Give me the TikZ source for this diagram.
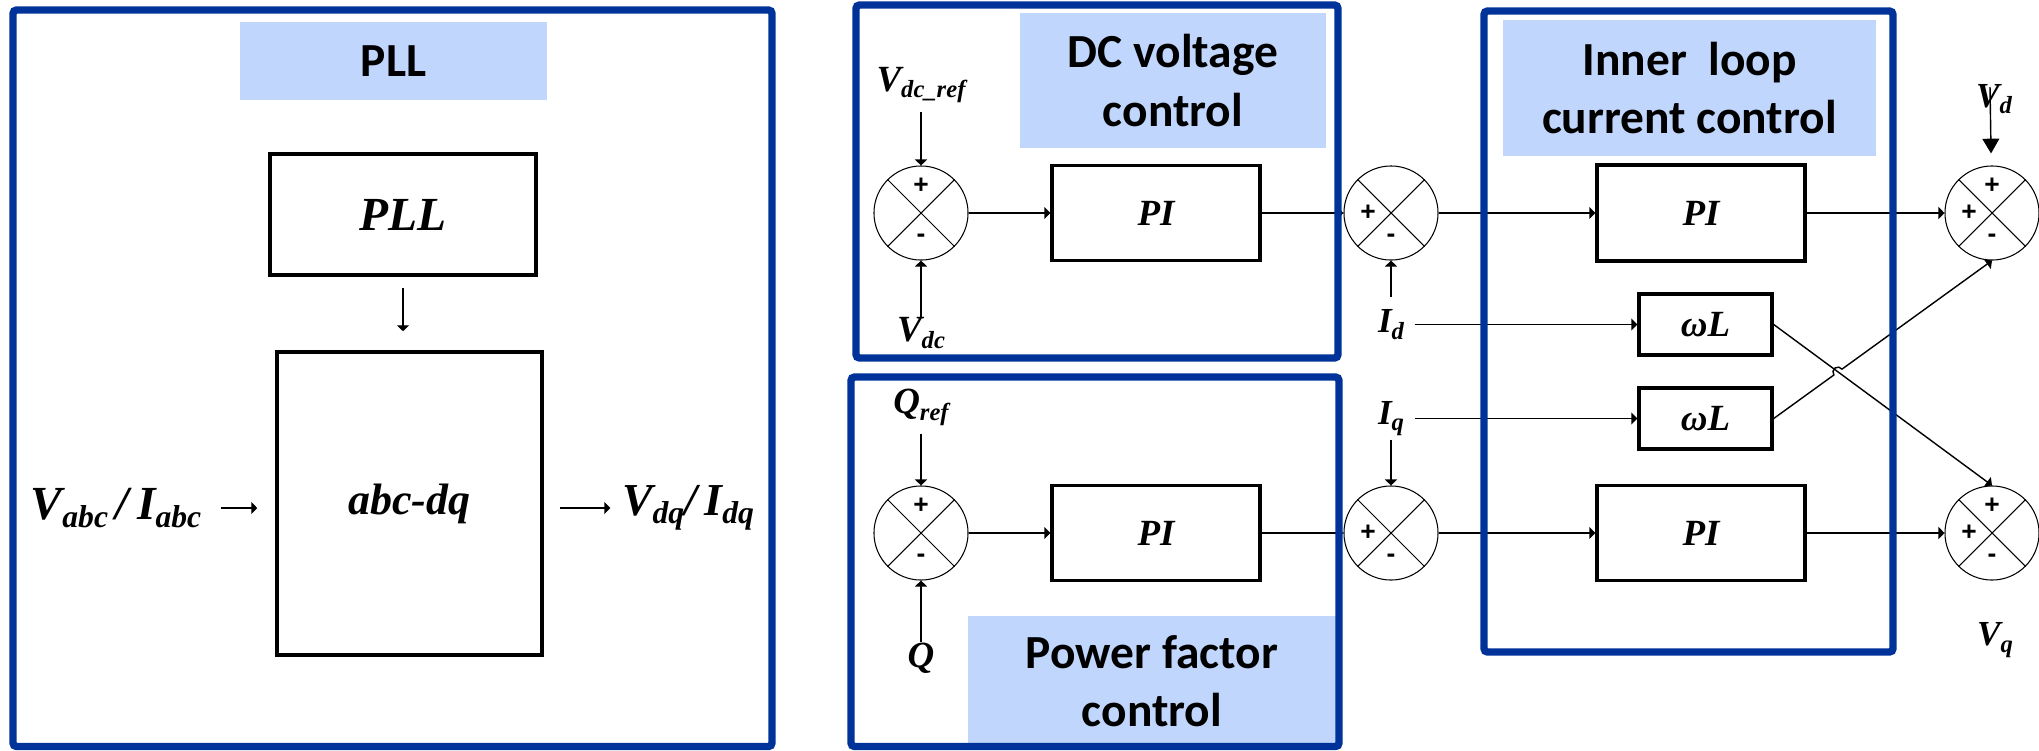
\documentclass[tikz,border=0pt]{standalone}
\usepackage{fontspec}
\setmainfont{Liberation Serif}
\newfontfamily\headfont{Carlito}
\newfontfamily\signfont{Liberation Sans}
\usetikzlibrary{arrows.meta,calc}

\definecolor{frameblue}{RGB}{0,51,153}
\definecolor{titleblue}{RGB}{193,214,252}

% subscript, set a little lower than the letter
\newcommand{\lowsub}[2]{\raisebox{-0.4ex}{\fontsize{#1}{#1}\selectfont #2}}

\begin{document}
\begin{tikzpicture}[x=0.01cm, y=0.01cm]

		% Define styles
		\tikzstyle{frame} = [draw=frameblue, line width=2.1pt, rounded corners=1pt]
		\tikzstyle{title} = [
		rectangle, fill=titleblue, inner sep=0pt, align=center,
		font=\headfont\bfseries\fontsize{13.5}{16.6}\selectfont]
		\tikzstyle{block} = [
		rectangle, draw=black, line width=0.95pt, inner sep=0pt,
		font=\bfseries\itshape\fontsize{10.5}{10.5}\selectfont]
		\tikzstyle{sumnode} = [circle, draw=black, line width=0.3pt, minimum size=0.94cm, inner sep=0pt]
		\tikzstyle{sign} = [inner sep=0pt, font=\signfont\bfseries\fontsize{7.5}{7.5}\selectfont]
		\tikzstyle{var} = [inner sep=0pt, font=\bfseries\itshape\fontsize{10}{10}\selectfont]
		\tikzstyle{arrow} = [line width=0.4pt, -{Triangle[length=1.7pt, width=3.4pt]}]
		\tikzstyle{bigarrow} = [line width=0.4pt, -{Triangle[length=4.2pt, width=4.8pt]}]

		\useasboundingbox (0,0) rectangle (2039,750);

		% Titles
		\node (plltitle) [title, minimum width=3.07cm, minimum height=0.78cm] at (393.5,689) {PLL};
		\node (dctitle) [title, minimum width=3.06cm, minimum height=1.35cm] at (1173,669.5) {DC voltage\\control};
		\node (pftitle) [title, minimum width=3.68cm, minimum height=1.305cm] at (1152,68.75) {Power factor\\control};
		\node (intitle) [title, minimum width=3.73cm, minimum height=1.36cm] at (1689.5,662) {Inner\ \ loop\\current control};

		% PLL part
		\node (pll) [block, minimum width=2.66cm, minimum height=1.21cm,
		font=\bfseries\itshape\fontsize{13.5}{13.5}\selectfont] at (403,535.5) {PLL};
		\node (abcdq) [block, minimum width=2.65cm, minimum height=3.03cm,
		font=\bfseries\itshape\fontsize{12.5}{12.5}\selectfont] at (409.5,246.5) {abc-dq};
		\node (vin) [var, font=\bfseries\itshape\fontsize{13.5}{13.5}\selectfont] at (116,242)
		{V\lowsub{9}{abc}\,/\,I\lowsub{9}{abc}};
		\node (vout) [var, font=\bfseries\itshape\fontsize{13}{13}\selectfont] at (688,242)
		{V\lowsub{9}{dq}/\,I\lowsub{9}{dq}};

		% DC voltage and power factor loops
		\node (s1) [sumnode] at (921,537) {};
		\node (s2) [sumnode] at (921,217) {};
		\node (vdcref) [var, font=\bfseries\itshape\fontsize{10.5}{10.5}\selectfont] at (921,665) {V\lowsub{7}{dc\_ref}};
		\node (vdc) [var, font=\bfseries\itshape\fontsize{10.5}{10.5}\selectfont] at (921,417) {V\lowsub{7}{dc}};
		\node (qref) [var, font=\bfseries\itshape\fontsize{10.5}{10.5}\selectfont] at (921,343) {Q\lowsub{7}{ref}};
		\node (q) [var, font=\bfseries\itshape\fontsize{10.5}{10.5}\selectfont] at (921,92) {Q};
		\node (pidc) [block, minimum width=2.08cm, minimum height=0.95cm] at (1156,537) {PI};
		\node (pipf) [block, minimum width=2.08cm, minimum height=0.95cm] at (1156,217) {PI};

		% Inner current loop
		\node (s3) [sumnode] at (1391,537) {};
		\node (s4) [sumnode] at (1391,217) {};
		\node (id) [var] at (1391,425.5) {I\lowsub{7}{d}};
		\node (iq) [var] at (1391,331.5) {I\lowsub{7}{q}};
		\node (pid) [block, minimum width=2.08cm, minimum height=0.96cm] at (1701,537) {PI};
		\node (piq) [block, minimum width=2.08cm, minimum height=0.95cm] at (1701,217) {PI};
		\node (wl1) [block, minimum width=1.33cm, minimum height=0.61cm] at (1705.5,425.5) {ωL};
		\node (wl2) [block, minimum width=1.33cm, minimum height=0.61cm] at (1705.5,331.5) {ωL};
		\node (s5) [sumnode] at (1992,537) {};
		\node (s6) [sumnode] at (1992,217) {};
		\node (vd) [var] at (1994,651) {V\lowsub{7}{d}};
		\node (vq) [var] at (1995,110) {V\lowsub{7}{q}};
		\coordinate (vdtop) at (1990,663);

		% Crosses and signs of the summing points
		\foreach \s in {s1,s2,s3,s4,s5,s6}
		\draw [line width=0.3pt] (\s.north west) -- (\s.south east) (\s.north east) -- (\s.south west);
		\foreach \s in {s1,s2,s5,s6}
		\node (\s-top) [sign] at ([yshift=0.27cm]\s.center) {+};
		\foreach \s in {s3,s4,s5,s6}
		\node (\s-left) [sign] at ([xshift=-0.23cm]\s.center) {+};
		\foreach \s in {s1,s2,s3,s4,s5,s6}
		\node (\s-bot) [sign] at ([yshift=-0.25cm]\s.center) {-};

		% Arrows
		\draw [arrow, shorten <=0.11cm, shorten >=0.19cm] (pll.south) -- (pll.south |- abcdq.north);
		\draw [arrow, shorten <=0.19cm, shorten >=0.18cm] (vin.east) -- (vin.east -| abcdq.west);
		\draw [arrow, shorten <=0.16cm, shorten >=0.11cm] (abcdq.east |- vout.west) -- (vout.west);

		\draw [arrow, shorten <=0.08cm] (vdcref) -- (s1);
		\draw [arrow] (vdc) -- (s1);
		\draw [arrow] (s1) -- (pidc);
		\draw [arrow] (pidc) -- (s3);
		\draw [arrow, shorten <=0.08cm] (qref) -- (s2);
		\draw [arrow] (q) -- (s2);
		\draw [arrow] (s2) -- (pipf);
		\draw [arrow] (pipf) -- (s4);

		\draw [arrow, shorten <=0.12cm] (id) -- (s3);
		\draw [arrow, shorten <=0.1cm] (id) -- (wl1);
		\draw [arrow, shorten <=0.03cm] (iq) -- (s4);
		\draw [arrow, shorten <=0.1cm] (iq) -- (wl2);
		\draw [arrow] (s3) -- (pid);
		\draw [arrow] (s4) -- (piq);
		\draw [arrow] (pid) -- (s5);
		\draw [arrow] (piq) -- (s6);
		\draw [bigarrow, shorten >=0.12cm] (vdtop) -- (s5);
		\draw [arrow] (wl1.east) -- (s6.north);
		\draw [arrow] (wl2.east) -- ($(wl2.east)!0.2755!(s5.south)$)
		arc[start angle=215.77, end angle=35.77, radius=0.05cm] -- (s5.south);

		% Frames
		\draw [frame] (13,3.5) rectangle (772,740);
		\draw [frame] (856,392) rectangle (1338,745);
		\draw [frame] (851,3.5) rectangle (1339,373);
		\draw [frame] (1484,98) rectangle (1893,739);
	\end{tikzpicture}
\end{document}
